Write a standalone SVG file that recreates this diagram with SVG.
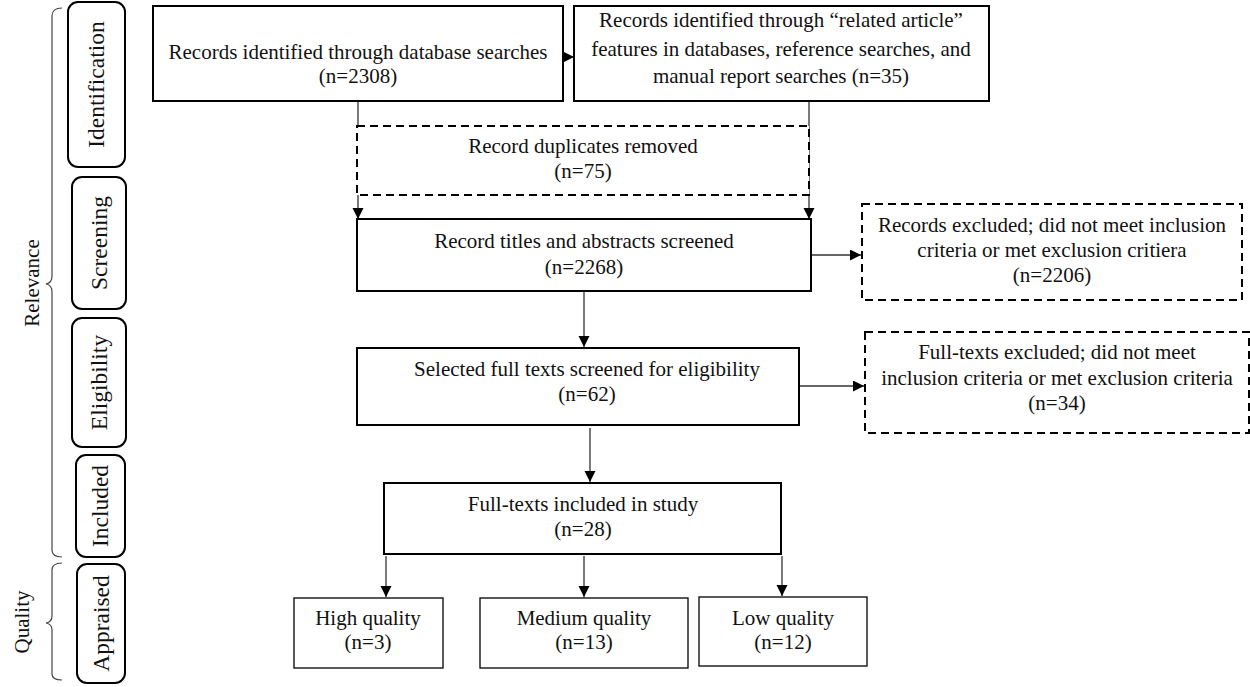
<svg xmlns="http://www.w3.org/2000/svg" width="1250" height="687" viewBox="0 0 1250 687">
<defs>
<marker id="ah" markerWidth="12" markerHeight="12" refX="11" refY="5.5" orient="auto" markerUnits="userSpaceOnUse">
<path d="M0,0 L11,5.5 L0,11 z" fill="#000"/>
</marker>
<style>
text{font-family:"Liberation Serif","Times New Roman",serif;font-size:21px;fill:#111;text-anchor:middle}
.lbl{font-size:23.5px}
.box{fill:#fff;stroke:#000;stroke-width:2}
.thin{fill:#fff;stroke:#000;stroke-width:1.3}
.dash{fill:#fff;stroke:#000;stroke-width:2;stroke-dasharray:8 5}
.side{fill:#fff;stroke:#000;stroke-width:2}
.arr{fill:none;stroke:#333;stroke-width:1.3;marker-end:url(#ah)}
.brace{fill:none;stroke:#444;stroke-width:1.2}
</style>
</defs>
<rect width="1250" height="687" fill="#fff"/>

<g id="braces">
<path class="brace" d="M62,8 Q52,8 52,16 L52,276 Q52,283 46,284 Q52,285 52,292 L52,550 Q52,557 62,557"/>
<text transform="translate(39,283) rotate(-90)">Relevance</text>
<path class="brace" d="M62,563 Q52,563 52,570 L52,616 Q52,622 46,623 Q52,624 52,630 L52,674 Q52,680 62,680"/>
<text transform="translate(29,622) rotate(-90)">Quality</text>
</g>

<g id="stage-identification"><rect class="side" x="68" y="2" width="57" height="165" rx="10"/><text class="lbl" transform="translate(104,84.5) rotate(-90)">Identification</text></g>
<g id="stage-screening"><rect class="side" x="72" y="177" width="54" height="132" rx="10"/><text class="lbl" transform="translate(107,243) rotate(-90)">Screening</text></g>
<g id="stage-eligibility"><rect class="side" x="72" y="318" width="54" height="129" rx="10"/><text class="lbl" transform="translate(107,382.5) rotate(-90)">Eligibility</text></g>
<g id="stage-included"><rect class="side" x="76" y="455" width="49" height="102" rx="10"/><text class="lbl" transform="translate(108,506) rotate(-90)">Included</text></g>
<g id="stage-appraised"><rect class="side" x="77" y="564" width="48" height="119" rx="10"/><text class="lbl" transform="translate(109,623.5) rotate(-90)">Appraised</text></g>

<g id="connectors">
<line class="arr" x1="563" y1="57" x2="574" y2="57"/>
<line class="arr" x1="358" y1="101" x2="358" y2="219"/>
<line class="arr" x1="809" y1="101" x2="809" y2="219"/>
<line class="arr" x1="811" y1="255" x2="861" y2="255"/>
<line class="arr" x1="584" y1="291" x2="584" y2="347"/>
<line class="arr" x1="799" y1="386" x2="864" y2="386"/>
<line class="arr" x1="590" y1="428" x2="590" y2="482"/>
<line class="arr" x1="386" y1="556" x2="386" y2="597"/>
<line class="arr" x1="584" y1="556" x2="584" y2="597"/>
<line class="arr" x1="782" y1="556" x2="782" y2="596"/>
</g>

<g id="n-db"><rect class="box" x="153" y="6" width="410" height="95"/><text x="358" y="59">Records identified through database searches</text><text x="358" y="83">(n=2308)</text></g>
<g id="n-other"><rect class="box" x="574" y="6" width="415" height="95"/><text x="781" y="27">Records identified through “related article”</text><text x="781" y="56">features in databases, reference searches, and</text><text x="781" y="83">manual report searches (n=35)</text></g>
<g id="n-dup"><rect class="dash" x="357" y="126" width="452" height="69"/><text x="583" y="153">Record duplicates removed</text><text x="583" y="178">(n=75)</text></g>
<g id="n-screen"><rect class="box" x="357" y="219" width="454" height="72"/><text x="584" y="248">Record titles and abstracts screened</text><text x="584" y="274">(n=2268)</text></g>
<g id="n-excl1"><rect class="dash" x="862" y="204" width="380" height="96"/><text x="1052" y="232">Records excluded; did not meet inclusion</text><text x="1052" y="257">criteria or met exclusion critiera</text><text x="1052" y="282">(n=2206)</text></g>
<g id="n-full"><rect class="box" x="357" y="348" width="442" height="77"/><text x="587" y="376">Selected full texts screened for eligibility</text><text x="587" y="401">(n=62)</text></g>
<g id="n-excl2"><rect class="dash" x="865" y="332" width="384" height="101"/><text x="1057" y="359">Full-texts excluded; did not meet</text><text x="1057" y="385">inclusion criteria or met exclusion criteria</text><text x="1057" y="410">(n=34)</text></g>
<g id="n-incl"><rect class="box" x="384" y="483" width="397" height="71"/><text x="583" y="511">Full-texts included in study</text><text x="583" y="536">(n=28)</text></g>
<g id="n-high"><rect class="thin" x="294" y="598" width="149" height="70"/><text x="368" y="625">High quality</text><text x="368" y="649">(n=3)</text></g>
<g id="n-med"><rect class="thin" x="480" y="598" width="208" height="70"/><text x="584" y="625">Medium quality</text><text x="584" y="649">(n=13)</text></g>
<g id="n-low"><rect class="thin" x="699" y="597" width="168" height="69"/><text x="783" y="625">Low quality</text><text x="783" y="649">(n=12)</text></g>
</svg>
